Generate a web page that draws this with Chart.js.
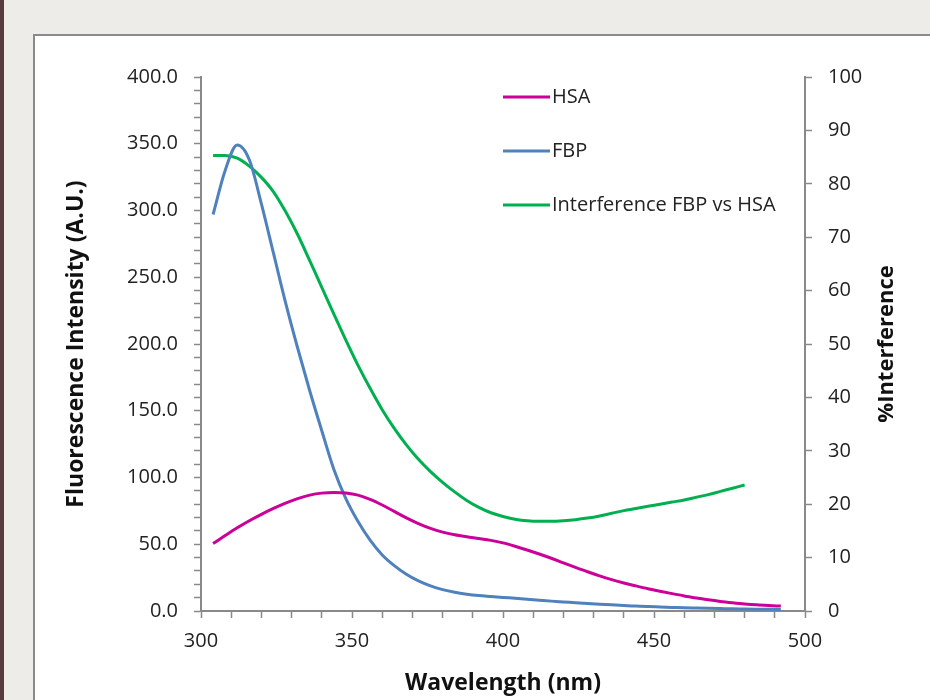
<!DOCTYPE html>
<html>
<head>
<meta charset="utf-8">
<script src="https://cdn.jsdelivr.net/npm/chart.js@4.4.1/dist/chart.umd.min.js"></script>
<style>
  html, body { margin: 0; padding: 0; background: #eeece8; overflow: hidden; }
  #strip { position: absolute; left: 0; top: 0; width: 4px; height: 700px; background: #5a3b40; }
  #panel { position: absolute; left: 33px; top: 34px; width: 920px; height: 700px; background: #fff; border: 2px solid #8a8a8a; }
  #myChart { position: absolute; left: 0; top: 0; }
</style>
</head>
<body>
<div id="strip"></div>
<div id="panel"></div>
<canvas id="myChart" width="930" height="700"></canvas>
<script>
// wavelength grid (nm)
var wavelengths = [304, 308, 312, 316, 320, 324, 328, 332, 336, 340, 344, 348, 352, 356, 360, 364,
  368, 372, 376, 380, 384, 388, 392, 396, 400, 404, 408, 412, 416, 420, 424, 428,
  432, 436, 440, 444, 448, 452, 456, 460, 464, 468, 472, 476, 480, 484, 488, 492];

// fluorescence intensity (A.U.)
var hsa = [50.5, 56.5, 62.3, 67.6, 72.4, 76.8, 80.8, 84.2, 86.8, 88.3, 88.8, 88.4, 86.8, 83.6, 79.4, 74.6,
  69.8, 65.5, 61.9, 59.1, 57.1, 55.6, 54.3, 52.9, 51, 48.5, 45.7, 42.7, 39.5, 36.1, 32.7, 29.4,
  26.3, 23.5, 21, 18.8, 16.7, 14.8, 13, 11.3, 9.8, 8.4, 7.2, 6.2, 5.3, 4.6, 4.1, 3.7];

var fbp = [297, 330, 349, 338, 305, 268, 231, 197, 165, 135, 106, 84, 67, 53, 42, 34,
  27.5, 22.5, 18.8, 16, 14, 12.6, 11.6, 10.9, 10.2, 9.5, 8.8, 8.1, 7.4, 6.8, 6.2, 5.6,
  5.1, 4.6, 4.1, 3.7, 3.3, 3.0, 2.7, 2.4, 2.2, 2.0, 1.8, 1.6, 1.5, 1.4, 1.3, 1.2];

// % interference (right axis)
var interference = [85.3, 85.3, 84.8, 83.3, 81.2, 78.5, 74.8, 70.5, 65.6, 60.6, 55.6, 50.7, 46, 41.7, 37.7, 34.2,
  31.1, 28.4, 26.1, 24.1, 22.3, 20.7, 19.4, 18.4, 17.7, 17.2, 16.9, 16.8, 16.8, 16.9, 17.1, 17.4,
  17.8, 18.3, 18.8, 19.2, 19.6, 20.0, 20.4, 20.8, 21.3, 21.8, 22.4, 23.0, 23.6, null, null, null];

var seriesNames = ['HSA', 'FBP', 'Interference FBP vs HSA'];
var seriesColors = ['#cc0099', '#4f81bd', '#00b050'];

function toPoints(values) {
  var pts = [];
  for (var i = 0; i < wavelengths.length; i++) {
    if (values[i] !== null) pts.push({ x: wavelengths[i], y: values[i] });
  }
  return pts;
}

// legend inside the plot + right axis title reading bottom-to-top, like the Excel original
var extras = {
  id: 'extras',
  afterDraw: function (chart) {
    var ctx = chart.ctx;
    var rows = [97, 151, 205];
    ctx.save();
    ctx.font = '20px "Open Sans"';
    ctx.textBaseline = 'middle';
    ctx.textAlign = 'left';
    for (var i = 0; i < seriesNames.length; i++) {
      ctx.strokeStyle = seriesColors[i];
      ctx.lineWidth = 3;
      ctx.beginPath();
      ctx.moveTo(503, rows[i]);
      ctx.lineTo(550, rows[i]);
      ctx.stroke();
      ctx.fillStyle = '#222';
      ctx.fillText(seriesNames[i], 552, rows[i]);
    }
    ctx.restore();

    ctx.save();
    ctx.translate(887, (chart.chartArea.top + chart.chartArea.bottom) / 2);
    ctx.rotate(-Math.PI / 2);
    ctx.font = 'bold 22px "Open Sans"';
    ctx.fillStyle = '#111';
    ctx.textAlign = 'center';
    ctx.textBaseline = 'middle';
    ctx.fillText('%Interference', 0, 0);
    ctx.restore();
  }
};

var axisGray = '#898989';

function displayChart() {
  var ctx = document.getElementById('myChart').getContext('2d');
  Chart.defaults.font.family = '"Open Sans", sans-serif';
  Chart.defaults.color = '#222';

  var myChart = new Chart(ctx, {
    type: 'line',
    data: {
      datasets: [{
        label: seriesNames[0],
        data: toPoints(hsa),
        borderColor: seriesColors[0],
        yAxisID: 'y'
      }, {
        label: seriesNames[1],
        data: toPoints(fbp),
        borderColor: seriesColors[1],
        yAxisID: 'y'
      }, {
        label: seriesNames[2],
        data: toPoints(interference),
        borderColor: seriesColors[2],
        yAxisID: 'y2'
      }]
    },
    options: {
      responsive: false,
      animation: false,
      events: [],
      elements: {
        line: { borderWidth: 3, cubicInterpolationMode: 'monotone', fill: false },
        point: { radius: 0 }
      },
      layout: { padding: { left: 40, right: 20, top: 77, bottom: 0 } },
      plugins: {
        legend: { display: false },
        tooltip: { enabled: false }
      },
      scales: {
        x: {
          type: 'linear',
          min: 300,
          max: 500,
          afterFit: function (s) { s.height = 89; },
          border: { color: axisGray, width: 2 },
          grid: { drawOnChartArea: false, tickLength: 7, tickColor: axisGray, tickWidth: 1.5 },
          ticks: {
            stepSize: 10,
            autoSkip: false,
            maxRotation: 0,
            padding: 11,
            font: { size: 20 },
            callback: function (v) { return v % 50 === 0 ? String(v) : ''; }
          },
          title: {
            display: true,
            text: 'Wavelength (nm)',
            font: { size: 23, weight: 'bold' },
            color: '#111',
            padding: { top: 0, bottom: 3 }
          }
        },
        y: {
          position: 'left',
          min: 0,
          max: 400,
          afterFit: function (s) { s.width = 161; },
          border: { color: axisGray, width: 2 },
          grid: { drawOnChartArea: false, tickLength: 7, tickColor: axisGray, tickWidth: 1.5 },
          ticks: {
            stepSize: 10,
            autoSkip: false,
            padding: 16,
            font: { size: 20 },
            callback: function (v) { return v % 50 === 0 ? v.toFixed(1) : ''; }
          },
          title: {
            display: true,
            text: 'Fluorescence Intensity (A.U.)',
            font: { size: 23, weight: 'bold' },
            color: '#111',
            padding: { top: 23, bottom: 0 }
          }
        },
        y2: {
          position: 'right',
          min: 0,
          max: 100,
          afterFit: function (s) { s.width = 105; },
          border: { color: axisGray, width: 2 },
          grid: { drawOnChartArea: false, tickLength: 7, tickColor: axisGray, tickWidth: 1.5 },
          ticks: {
            stepSize: 10,
            padding: 16,
            font: { size: 20 }
          },
          title: { display: false }
        }
      }
    },
    plugins: [extras]
  });
}

displayChart();
</script>
</body>
</html>
